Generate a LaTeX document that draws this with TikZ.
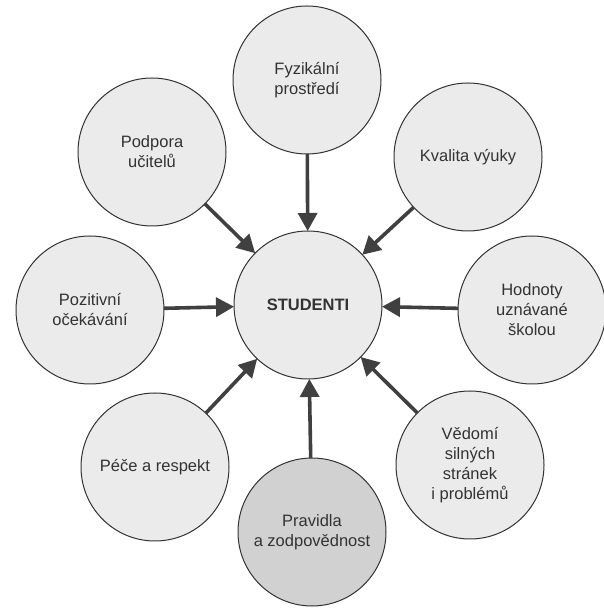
\documentclass[tikz,border=0pt]{standalone}
\usepackage{fontspec}
\setmainfont{Liberation Sans}
\usetikzlibrary{arrows.meta}
\begin{document}
\begin{tikzpicture}[x=1pt,y=1pt,
  bub/.style={circle, draw=black!80, line width=1pt, fill=black!8, minimum size=148pt, inner sep=0pt, outer sep=0pt, align=center, font=\fontsize{16.5}{20}\selectfont, text=black!80},
  darkbub/.style={bub, fill=black!18},
  arr/.style={draw=black!75, line width=3.6pt, -{Triangle[length=18pt,width=19pt]}}]
\useasboundingbox (0,0) rectangle (603,610);
\fill[white] (0,0) rectangle (603,610);
\node[bub, font=\fontsize{16.5}{20}\selectfont\bfseries] (s) at (308,305) {STUDENTI};
\node[bub] (fyz) at (307,530) {Fyzikální\\prostředí};
\node[bub] (pod) at (152,458) {Podpora\\učitelů};
\node[bub] (kva) at (468,453) {Kvalita výuky};
\node[bub] (hod) at (532,300) {Hodnoty\\uznávané\\školou};
\node[bub] (ved) at (470,145) {Vědomí\\silných\\stránek\\i problémů};
\node[darkbub] (pra) at (312,78) {Pravidla\\a zodpovědnost};
\node[bub] (pec) at (155,143) {Péče a respekt};
\node[bub] (poz) at (90,300) {Pozitivní\\očekávání};
\foreach \n in {fyz,pod,kva,hod,ved,pra,pec,poz}
  \draw[arr] (\n) -- (s);
\end{tikzpicture}
\end{document}
